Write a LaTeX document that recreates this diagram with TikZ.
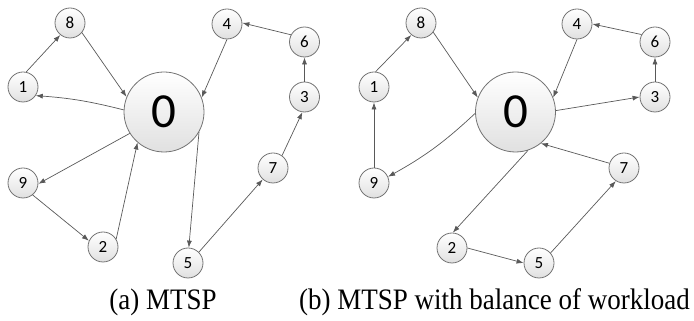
\documentclass[tikz,border=0pt]{standalone}
\usepackage{fontspec}
\setmainfont{Liberation Serif}
\newfontfamily\numfont{Carlito}
\usetikzlibrary{arrows.meta}
\begin{document}
\begin{tikzpicture}[x=1pt,y=1pt,
  city/.style={circle, draw=black!55, line width=0.8pt, top color=white, bottom color=black!12,
    minimum size=30pt, inner sep=0pt, font=\numfont\fontsize{17}{17}\selectfont},
  depot/.style={city, minimum size=80pt, font=\numfont\fontsize{49}{49}\selectfont},
  link/.style={draw=black!65, line width=0.7pt, -{Latex[length=7pt,width=5pt]}},
  caption/.style={font=\fontsize{27}{27}\selectfont, anchor=base, inner sep=0pt}
]
\useasboundingbox (0,0) rectangle (694,321);
% left panel
\node[depot] (L0) at (164,209) {0};
\node[city] (L8) at (70,298) {8};
\node[city] (L1) at (23,234) {1};
\node[city] (L9) at (23,138) {9};
\node[city] (L2) at (103,74) {2};
\node[city] (L5) at (188,58) {5};
\node[city] (L7) at (273,153) {7};
\node[city] (L3) at (304.5,224) {3};
\node[city] (L6) at (304.5,279) {6};
\node[city] (L4) at (227,297) {4};
\draw[link] (L1.78) -- (L8.231);
\draw[link] (L8.-39) -- (L0.158);
\draw[link] (L0.177) to[bend right=5] (L1.-34);
\draw[link] (L0.212) -- (L9.-3);
\draw[link] (L9.-51) -- (L2.156);
\draw[link] (L2.31) -- (L0.229);
\draw[link] (L4.-90) -- (L0.21);
\draw[link] (L0.-30) -- (L5.87);
\draw[link] (L5.45) -- (L7.228);
\draw[link] (L7.54) -- (L3.-98);
\draw[link] (L3.90) -- (L6.-90);
\draw[link] (L6.152) -- (L4.4);
% right panel
\node[depot] (R0) at (515.5,209) {0};
\node[city] (R8) at (421,298) {8};
\node[city] (R1) at (374,234) {1};
\node[city] (R9) at (374,138) {9};
\node[city] (R2) at (452,73) {2};
\node[city] (R5) at (539,58) {5};
\node[city] (R7) at (624,153) {7};
\node[city] (R3) at (655,224) {3};
\node[city] (R6) at (655,279) {6};
\node[city] (R4) at (577,297) {4};
\draw[link] (R1.84) -- (R8.231);
\draw[link] (R8.-37) -- (R0.159);
\draw[link] (R9.90) -- (R1.-90);
\draw[link] (R0.182) to[bend left=7] (R9.24);
\draw[link] (R4.-90) -- (R0.21);
\draw[link] (R6.151) -- (R4.0);
\draw[link] (R3.90) -- (R6.-90);
\draw[link] (R0.2) -- (R3.180);
\draw[link] (R7.162) -- (R0.-51);
\draw[link] (R0.-72) -- (R2.87);
\draw[link] (R2.0) -- (R5.180);
\draw[link] (R5.41) -- (R7.238);
% captions
\node[caption] (capa) at (163,11) {\scalebox{1}[1.1]{(a) MTSP}};
\node[caption] (capb) at (494.5,11) {\scalebox{1}[1.1]{(b) MTSP with balance of workload}};
\end{tikzpicture}
\end{document}
